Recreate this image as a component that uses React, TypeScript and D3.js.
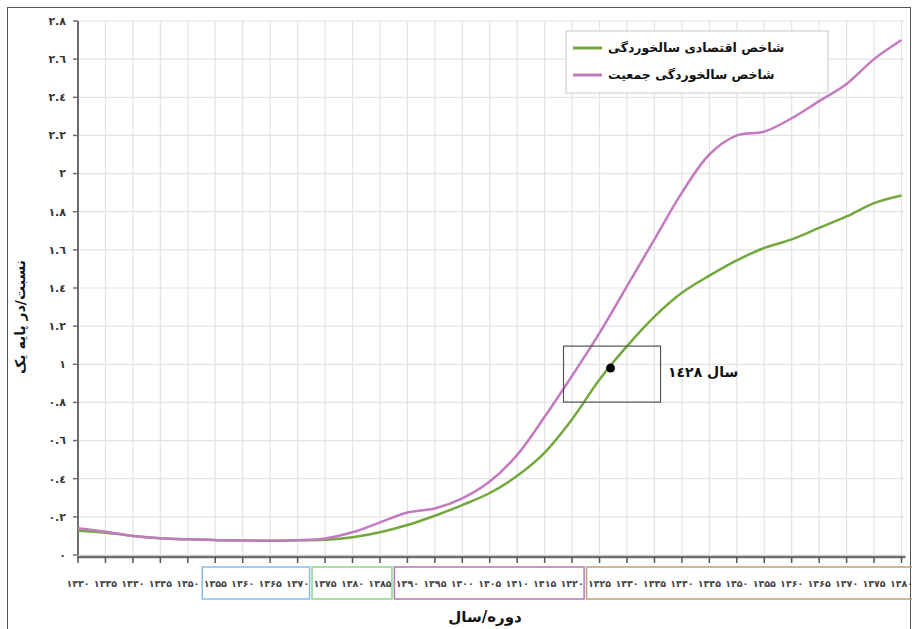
import React from "react";
import * as d3 from "d3";

const YEARS = [1330, 1335, 1340, 1345, 1350, 1355, 1360, 1365, 1370, 1375, 1380, 1385, 1390, 1395, 1400, 1405, 1410, 1415, 1420, 1425, 1430, 1435, 1440, 1445, 1450, 1455, 1460, 1465, 1470, 1475, 1480];
const ECON = [0.127, 0.117, 0.1, 0.088, 0.082, 0.078, 0.076, 0.075, 0.077, 0.08, 0.093, 0.119, 0.157, 0.206, 0.262, 0.325, 0.415, 0.537, 0.712, 0.92, 1.095, 1.25, 1.375, 1.465, 1.545, 1.61, 1.655, 1.715, 1.775, 1.845, 1.885];
const POP = [0.14, 0.122, 0.1, 0.088, 0.082, 0.078, 0.076, 0.075, 0.078, 0.087, 0.119, 0.171, 0.223, 0.244, 0.297, 0.385, 0.525, 0.725, 0.94, 1.165, 1.41, 1.655, 1.9, 2.1, 2.2, 2.22, 2.29, 2.38, 2.47, 2.6, 2.7];
const Y_TICKS = [0, 0.2, 0.4, 0.6, 0.8, 1, 1.2, 1.4, 1.6, 1.8, 2, 2.2, 2.4, 2.6, 2.8];
const SERIES_NAMES = ["شاخص اقتصادی سالخوردگی", "شاخص سالخوردگی جمعیت"];
const SERIES_COLORS = ["#72a83e", "#c47ac0"];
const GROUPS = [
  { from: 1355, to: 1370, color: "#86bdec" },
  { from: 1375, to: 1385, color: "#8ed68a" },
  { from: 1390, to: 1420, color: "#b479b4" },
  { from: 1425, to: 1485, color: "#bfa07e" },
];
const MARK_YEAR = 1427;
const MARK_VALUE = 0.98;
const MARK_LABEL = "سال ١٤٢٨";
const X_TITLE = "دوره/سال";
const Y_TITLE = "نسبت/در پایه یک";

const persian = (n: number) => String(n).replace(/\d/g, (d) => "۰۱۲۳۴۵۶۷۸۹"[+d]);
const arabic = (n: number) => String(n).replace(/\d/g, (d) => "٠١٢٣٤٥٦٧٨٩"[+d]);

export default function App() {
  const x = d3.scaleLinear().domain([1330, 1480]).range([78, 901.5]);
  const y = d3.scaleLinear().domain([0, 2.8]).range([555, 21]);
  const line = d3
    .line<number>()
    .x((_, i) => x(YEARS[i]))
    .y((d) => y(d))
    .curve(d3.curveCatmullRom.alpha(0.5));
  const font = "'DejaVu Sans', sans-serif";
  const mx = x(MARK_YEAR);
  const my = y(MARK_VALUE);
  return (
    <svg width={912} height={629} style={{ position: "absolute", left: 0, top: 0 }} fontFamily={font}>
      <rect x={0} y={0} width={912} height={629} fill="#fff" />
      <rect x={7.5} y={7.5} width={903} height={625} fill="none" stroke="#555" strokeWidth={1} />
      {/* grid */}
      {YEARS.map((yr) => (
        <line key={"gx" + yr} x1={x(yr)} x2={x(yr)} y1={y(2.8)} y2={y(0)} stroke="#e3e3e3" strokeWidth={1.2} />
      ))}
      {Y_TICKS.map((t) => (
        <line key={"gy" + t} x1={x(1330)} x2={x(1480) + 3} y1={y(t)} y2={y(t)} stroke="#e3e3e3" strokeWidth={1.2} />
      ))}
      {/* axes */}
      <line x1={x(1330)} x2={x(1330)} y1={y(2.8)} y2={y(0)} stroke="#6e6e6e" strokeWidth={2} />
      {Y_TICKS.map((t) => (
        <g key={"yt" + t}>
          <line x1={x(1330) - 5} x2={x(1330)} y1={y(t)} y2={y(t)} stroke="#6e6e6e" strokeWidth={1.5} />
          <text x={66} y={y(t)} dy="0.35em" textAnchor="end" fontSize={11} fontWeight="bold" fill="#333">
            {arabic(t)}
          </text>
        </g>
      ))}
      <line x1={x(1330) - 1} x2={x(1480) + 4} y1={y(0) + 2} y2={y(0) + 2} stroke="#6e6e6e" strokeWidth={2.5} />
      {YEARS.map((yr) => (
        <g key={"xt" + yr}>
          <line x1={x(yr)} x2={x(yr)} y1={y(0) + 2} y2={y(0) + 8} stroke="#555" strokeWidth={1.5} />
          <text x={x(yr)} y={587} textAnchor="middle" fontSize={9.5} fontWeight="bold" fill="#444">
            {persian(yr)}
          </text>
        </g>
      ))}
      {GROUPS.map((g) => (
        <rect
          key={"grp" + g.from}
          x={x(g.from) - 13}
          y={567}
          width={x(g.to) - x(g.from) + 25}
          height={32}
          fill="none"
          stroke={g.color}
          strokeWidth={1.5}
        />
      ))}
      {/* series */}
      {[ECON, POP].map((s, i) => (
        <path key={"s" + i} d={line(s) || ""} fill="none" stroke={SERIES_COLORS[i]} strokeWidth={2.5} />
      ))}
      {/* annotation */}
      <rect x={mx - 47} y={my - 22} width={97} height={56} fill="none" stroke="#555" strokeWidth={1.2} />
      <circle cx={mx} cy={my} r={4.5} fill="#000" />
      <text x={668} y={my + 9} fontSize={14} fontWeight="bold" fill="#111">
        {MARK_LABEL}
      </text>
      {/* legend */}
      <rect x={566} y={31} width={262} height={62} fill="#fff" stroke="#c8c8c8" strokeWidth={1} />
      {SERIES_NAMES.map((n, i) => (
        <g key={"lg" + i}>
          <line x1={573} x2={602} y1={48 + i * 27} y2={48 + i * 27} stroke={SERIES_COLORS[i]} strokeWidth={3} />
          <text x={608} y={48 + i * 27} dy="0.35em" fontSize={12.5} fontWeight="bold" fill="#111">
            {n}
          </text>
        </g>
      ))}
      {/* titles */}
      <text x={485} y={622} textAnchor="middle" fontSize={15} fontWeight="bold" fill="#111">
        {X_TITLE}
      </text>
      <text
        transform={`translate(25,317) rotate(-90)`}
        textAnchor="middle"
        fontSize={14}
        fontWeight="bold"
        fill="#111"
      >
        {Y_TITLE}
      </text>
    </svg>
  );
}
